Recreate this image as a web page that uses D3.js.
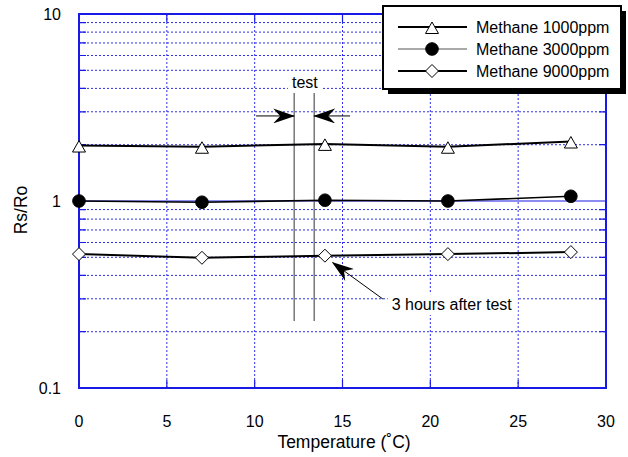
<!DOCTYPE html>
<html><head><meta charset="utf-8">
<script src="https://cdn.jsdelivr.net/npm/d3@7"></script>
<style>body{margin:0;background:#fff}svg{display:block}text{font-family:"Liberation Sans",Arial,sans-serif;fill:#000}</style>
</head><body><svg id="c" width="628" height="457"></svg>
<script>
const temps = [0, 7, 14, 21, 28];
const methane1000 = [1.98, 1.95, 2.02, 1.95, 2.08];
const methane3000 = [1.0, 0.985, 1.01, 1.0, 1.06];
const methane9000 = [0.52, 0.497, 0.51, 0.52, 0.533];
const seriesNames = ["Methane 1000ppm", "Methane 3000ppm", "Methane 9000ppm"];
const xTicks = [0, 5, 10, 15, 20, 25, 30];
const yTicks = [0.1, 1, 10];
const yTickLabels = ["0.1", "1", "10"];

const svg = d3.select("#c");
const L = 79, R = 606, T = 14, B = 388;
const x = d3.scaleLinear().domain([0, 30]).range([L, R]);
const y = d3.scaleLog().domain([0.1, 10]).range([B, T]);
const blue = "#1a1ae6";

// minor log grid
const minors = [];
[0.1, 1].forEach(d => { for (let k = 2; k <= 9; k++) minors.push(+(d * k).toFixed(3)); });
const g = svg.append("g");
g.selectAll(".hm").data(minors).join("line")
  .attr("x1", L).attr("x2", R).attr("y1", d => y(d)).attr("y2", d => y(d))
  .attr("stroke", blue).attr("stroke-width", 1).attr("stroke-dasharray", "2,2").attr("opacity", 0.9);
g.selectAll(".vm").data(xTicks.slice(1, -1)).join("line")
  .attr("x1", d => x(d)).attr("x2", d => x(d)).attr("y1", T).attr("y2", B)
  .attr("stroke", blue).attr("stroke-width", 1).attr("stroke-dasharray", "2,2").attr("opacity", 0.9);
g.append("line").attr("x1", L).attr("x2", R).attr("y1", y(1)).attr("y2", y(1)).attr("stroke", blue).attr("stroke-width", 1.2);
g.selectAll(".tl").data(minors).join("path")
  .attr("d", d => `M${L},${y(d)}h7M${R},${y(d)}h-7`).attr("stroke", blue).attr("stroke-width", 1.2);
g.selectAll(".tx").data(xTicks.slice(1, -1)).join("path")
  .attr("d", d => `M${x(d)},${B}v-8M${x(d)},${T}v8`).attr("stroke", blue).attr("stroke-width", 1.2);
g.append("rect").attr("x", L).attr("y", T).attr("width", R - L).attr("height", B - T)
  .attr("fill", "none").attr("stroke", blue).attr("stroke-width", 2);

// axis labels
svg.selectAll(".xl").data(xTicks).join("text")
  .attr("x", d => x(d)).attr("y", 427).attr("text-anchor", "middle").attr("font-size", 16).text(d => d);
svg.selectAll(".yl").data(yTicks).join("text")
  .attr("x", 61).attr("y", d => y(d)).attr("dy", "0.36em").attr("text-anchor", "end").attr("font-size", 16)
  .text((d, i) => yTickLabels[i]);
svg.append("text").attr("x", 344).attr("y", 448).attr("text-anchor", "middle").attr("font-size", 17.5).text("Temperature (˚C)");
svg.append("text").attr("transform", "translate(27,210) rotate(-90)").attr("text-anchor", "middle").attr("font-size", 17.5).text("Rs/Ro");

// annotations
const ann = svg.append("g");
const defs = svg.append("defs");
defs.append("marker").attr("id", "ah").attr("viewBox", "0 0 22 15").attr("refX", 21).attr("refY", 7.5)
  .attr("markerWidth", 22).attr("markerHeight", 15).attr("markerUnits", "userSpaceOnUse").attr("orient", "auto")
  .append("path").attr("d", "M0,0L22,7.5L0,15L7,7.5Z").attr("fill", "#000");
ann.append("rect").attr("x", x(12.86) - 17).attr("y", y(4.02) - 15).attr("width", 34).attr("height", 20).attr("fill", "#fff");
ann.append("rect").attr("x", x(17.8) - 4).attr("y", y(0.261) - 16).attr("width", 130).attr("height", 21).attr("fill", "#fff");
ann.append("text").attr("x", x(12.86)).attr("y", y(4.02)).attr("text-anchor", "middle").attr("font-size", 16).text("test");
[12.25, 13.39].forEach(v => ann.append("line").attr("x1", x(v)).attr("x2", x(v)).attr("y1", y(3.78)).attr("y2", y(0.228))
  .attr("stroke", "#777").attr("stroke-width", 1.5));
ann.append("line").attr("x1", x(10.08)).attr("x2", x(12.25)).attr("y1", y(2.85)).attr("y2", y(2.85))
  .attr("stroke", "#000").attr("stroke-width", 1).attr("marker-end", "url(#ah)");
ann.append("line").attr("x1", x(15.43)).attr("x2", x(13.39)).attr("y1", y(2.85)).attr("y2", y(2.85))
  .attr("stroke", "#000").attr("stroke-width", 1).attr("marker-end", "url(#ah)");
ann.append("line").attr("x1", x(17.3)).attr("y1", y(0.299)).attr("x2", x(14.44)).attr("y2", y(0.468))
  .attr("stroke", "#000").attr("stroke-width", 1).attr("marker-end", "url(#ah)");
ann.append("text").attr("x", x(17.8)).attr("y", y(0.261)).attr("font-size", 16).text("3 hours after test");

// series
const shapes = {
  tri: "M0,-5L6.5,6.5L-6.5,6.5Z",
  circ: "M6.3,0A6.3,6.3 0 1,1 -6.3,0A6.3,6.3 0 1,1 6.3,0Z",
  dia: "M0,-6.5L6.5,0L0,6.5L-6.5,0Z"
};
const series = [
  { name: seriesNames[0], vals: methane1000, shape: shapes.tri, fill: "#fff", w: 2 },
  { name: seriesNames[1], vals: methane3000, shape: shapes.circ, fill: "#000", w: 1.6 },
  { name: seriesNames[2], vals: methane9000, shape: shapes.dia, fill: "#fff", w: 2 }
];
const line = d3.line().x((d, i) => x(temps[i])).y(d => y(d));
series.forEach(s => {
  svg.append("path").attr("d", line(s.vals)).attr("fill", "none").attr("stroke", "#000").attr("stroke-width", s.w);
  svg.selectAll(null).data(s.vals).join("path")
    .attr("transform", (d, i) => `translate(${x(temps[i])},${y(d)})`)
    .attr("d", s.shape).attr("fill", s.fill).attr("stroke", "#000").attr("stroke-width", 1);
});

// legend
const lg = svg.append("g");
lg.append("rect").attr("x", 388).attr("y", 11).attr("width", 238).attr("height", 83).attr("fill", "#000");
lg.append("rect").attr("x", 383).attr("y", 6).attr("width", 238).attr("height", 83).attr("fill", "#fff").attr("stroke", "#000").attr("stroke-width", 2);
series.forEach((s, i) => {
  const yy = 27 + i * 22;
  lg.append("line").attr("x1", 398).attr("x2", 467).attr("y1", yy).attr("y2", yy).attr("stroke", i === 1 ? "#555" : "#000").attr("stroke-width", i === 1 ? 1.2 : 2);
  lg.append("path").attr("transform", `translate(432,${yy})`).attr("d", s.shape).attr("fill", s.fill).attr("stroke", "#000").attr("stroke-width", 1);
  lg.append("text").attr("x", 476).attr("y", yy).attr("dy", "0.36em").attr("font-size", 16).text(s.name);
});
</script></body></html>
